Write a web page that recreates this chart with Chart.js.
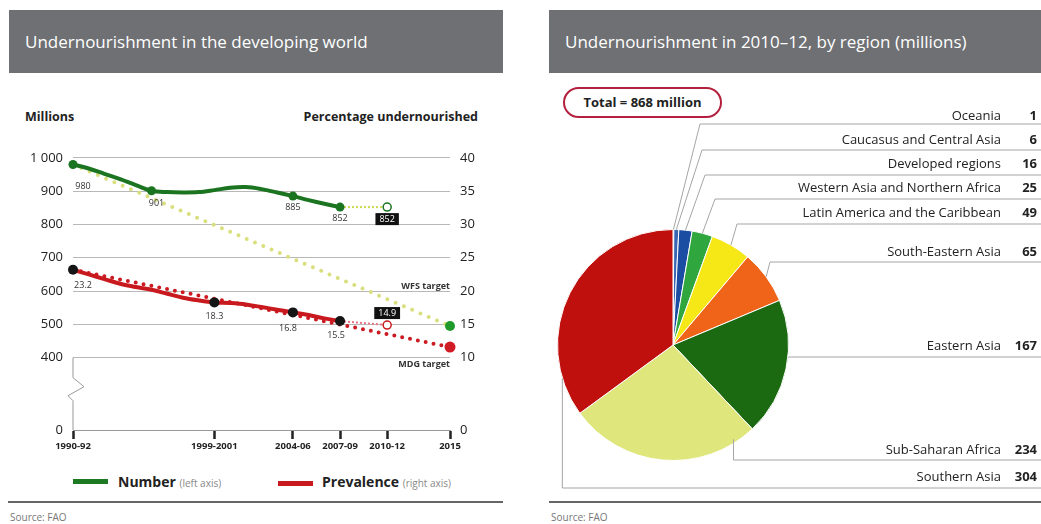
<!DOCTYPE html>
<html>
<head>
<meta charset="utf-8">
<title>Undernourishment</title>
<script src="https://cdn.jsdelivr.net/npm/chart.js@4/dist/chart.umd.min.js"></script>
<style>
    body { margin: 0; width: 1041px; height: 524px; background: #fff; position: relative; overflow: hidden; font-family: 'Open Sans', sans-serif; color: #222; }
    .bar { position: absolute; top: 10px; height: 63px; background: #6e7073; color: #fff; font-size: 17px; line-height: 63px; padding-left: 16px; box-sizing: border-box; }
    .abs { position: absolute; white-space: nowrap; }
    .axis-title { font-size: 12.5px; font-weight: bold; top: 108px; }
    .swatch { position: absolute; height: 5px; width: 35px; }
    .leg { font-size: 14px; font-weight: bold; top: 472px; }
    .leg span { font-size: 10px; font-weight: normal; color: #888; }
    .rule { position: absolute; top: 501px; height: 2px; background: #666; }
    .source { font-size: 10px; color: #777; top: 510px; }
    .total { left: 563px; top: 87px; width: 159px; height: 31px; border: 2px solid #b3203d; border-radius: 16px; box-sizing: border-box; font-size: 13px; font-weight: bold; text-align: center; line-height: 27px; }
    canvas { position: absolute; }
</style>
</head>
<body>
<div class="bar" style="left:9px; width:494px;">Undernourishment in the developing world</div>
<div class="bar" style="left:549px; width:492px;">Undernourishment in 2010–12, by region (millions)</div>

<div class="abs axis-title" style="left:25px;">Millions</div>
<div class="abs axis-title" style="right:563px;">Percentage undernourished</div>

<canvas id="trendChart" width="503" height="320" style="left:0; top:140px;"></canvas>

<div class="swatch" style="left:73px; top:479px; background:#1d7a22;"></div>
<div class="abs leg" style="left:118px;">Number <span>(left axis)</span></div>
<div class="swatch" style="left:278px; top:481px; background:#c81a1e;"></div>
<div class="abs leg" style="left:322px;">Prevalence <span>(right axis)</span></div>

<div class="rule" style="left:8px; width:495px;"></div>
<div class="abs source" style="left:10px;">Source: FAO</div>

<div class="abs total">Total = 868 million</div>
<canvas id="regionChart" width="492" height="420" style="left:549px; top:80px;"></canvas>

<div class="rule" style="left:549px; width:492px;"></div>
<div class="abs source" style="left:551px;">Source: FAO</div>

<script>
// ---- trend data (3-year averages, plotted at the middle year) ----
const years = [1991, 1992, 1993, 1994, 1995, 1996, 1997, 1998, 1999, 2000, 2001, 2002, 2003, 2004, 2005, 2006, 2007, 2008];
const numberValues = [980, 968, 952, 936, 918, 901, 897, 896, 897, 903, 910, 912, 906, 896, 885, 873, 862, 852];
const prevalenceValues = [23.2, 22.5, 21.8, 21.1, 20.6, 20.2, 19.6, 19.0, 18.6, 18.3, 18.2, 18.0, 17.6, 17.2, 16.8, 16.4, 15.9, 15.5];
const numberLabelYears = [1991, 1996, 2005, 2008];
const prevalenceLabelYears = [1991, 2000, 2005, 2008];

// 2010-12 provisional estimate
const projYears = [2008, 2011];
const numberProj = [852, 852];
const prevalenceProj = [15.5, 14.9];

// targets for 2015
const targetYears = [1991, 2015];
const wfsTarget = [980, 495];
const mdgTarget = [23.2, 11.6];

const xTickYears = [1991, 2000, 2005, 2008, 2011, 2015];
const xTickLabels = ['1990-92', '1999-2001', '2004-06', '2007-09', '2010-12', '2015'];
const leftTicks = [400, 500, 600, 700, 800, 900, 1000];
const leftTickLabels = ['400', '500', '600', '700', '800', '900', '1 000'];
const rightTicks = [10, 15, 20, 25, 30, 35, 40];

// ---- region data, 2010-12 (millions) ----
const regions = ['Oceania', 'Caucasus and Central Asia', 'Developed regions', 'Western Asia and Northern Africa',
    'Latin America and the Caribbean', 'South-Eastern Asia', 'Eastern Asia', 'Sub-Saharan Africa', 'Southern Asia'];
const regionValues = [1, 6, 16, 25, 49, 65, 167, 234, 304];

// broken axis: the stretch between 0 and 400 is squeezed
const LEFT_MIN = 183;
const RIGHT_MIN = 10 - (400 - LEFT_MIN) / 20;

Chart.defaults.font.family = "'Open Sans', sans-serif";
Chart.defaults.color = '#222';

const GREEN = '#1b7420';
const RED = '#c81a1e';

function toPoints(xs, ys) {
    return xs.map((x, i) => ({ x: x, y: ys[i] }));
}

// value labels, axis break and target notes
const trendNotes = {
    id: 'trendNotes',
    afterDatasetsDraw(chart) {
        const ctx = chart.ctx;
        const area = chart.chartArea;
        const yl = chart.scales.yLeft;

        // axis break below 400
        const y400 = yl.getPixelForValue(400);
        const x0 = area.left;
        ctx.save();
        ctx.strokeStyle = '#999';
        ctx.lineWidth = 1;
        ctx.beginPath();
        ctx.moveTo(x0, y400);
        ctx.lineTo(x0, y400 + 20);
        ctx.lineTo(x0 + 11, y400 + 29);
        ctx.lineTo(x0 - 5, y400 + 38);
        ctx.lineTo(x0, y400 + 43);
        ctx.lineTo(x0, area.bottom);
        ctx.stroke();

        ctx.font = '9px "Open Sans"';
        ctx.fillStyle = '#333';
        ctx.textAlign = 'center';
        ctx.textBaseline = 'middle';

        const numMeta = chart.getDatasetMeta(0);
        const numOffsets = { 1991: [10, 22], 1996: [5, 13], 2005: [0, 11], 2008: [0, 11] };
        numberLabelYears.forEach(yr => {
            const i = years.indexOf(yr);
            const p = numMeta.data[i];
            ctx.fillText(String(numberValues[i]), p.x + numOffsets[yr][0], p.y + numOffsets[yr][1]);
        });

        const prevMeta = chart.getDatasetMeta(1);
        const prevOffsets = { 1991: [10, 16], 2000: [0, 14], 2005: [-5, 16], 2008: [-4, 14] };
        prevalenceLabelYears.forEach(yr => {
            const i = years.indexOf(yr);
            const p = prevMeta.data[i];
            ctx.fillText(prevalenceValues[i].toFixed(1), p.x + prevOffsets[yr][0], p.y + prevOffsets[yr][1]);
        });

        // black boxes for 2010-12
        const boxes = [
            { meta: chart.getDatasetMeta(2), text: String(numberProj[1]), dy: 12 },
            { meta: chart.getDatasetMeta(3), text: prevalenceProj[1].toFixed(1), dy: -12 }
        ];
        boxes.forEach(b => {
            const p = b.meta.data[1];
            const w = ctx.measureText(b.text).width + 8;
            ctx.fillStyle = '#111';
            ctx.fillRect(p.x - w / 2, p.y + b.dy - 6, w, 12);
            ctx.fillStyle = '#fff';
            ctx.fillText(b.text, p.x, p.y + b.dy);
        });

        // target names
        ctx.font = 'bold 9px "Open Sans"';
        ctx.fillStyle = '#333';
        ctx.textAlign = 'right';
        const wfsEnd = chart.getDatasetMeta(4).data[1];
        const mdgEnd = chart.getDatasetMeta(5).data[1];
        ctx.fillText('WFS target', area.right, wfsEnd.y - 40);
        ctx.fillText('MDG target', area.right, mdgEnd.y + 17);
        ctx.restore();
    }
};

new Chart(document.getElementById('trendChart'), {
    type: 'line',
    data: {
        datasets: [
            {
                label: 'Number',
                data: toPoints(years, numberValues),
                yAxisID: 'yLeft',
                borderColor: GREEN,
                borderWidth: 4,
                tension: 0.35,
                pointRadius: years.map(y => numberLabelYears.includes(y) ? 4.5 : 0),
                pointBackgroundColor: GREEN,
                pointBorderWidth: 0,
                clip: false,
                order: 1
            },
            {
                label: 'Prevalence',
                data: toPoints(years, prevalenceValues),
                yAxisID: 'yRight',
                borderColor: RED,
                borderWidth: 4,
                tension: 0.35,
                pointRadius: years.map(y => prevalenceLabelYears.includes(y) ? 5 : 0),
                pointBackgroundColor: '#151515',
                pointBorderWidth: 0,
                clip: false,
                order: 2
            },
            {
                label: 'Number 2010-12',
                data: toPoints(projYears, numberProj),
                yAxisID: 'yLeft',
                borderColor: '#c9d84c',
                borderWidth: 2,
                borderDash: [2, 2],
                pointRadius: [0, 4],
                pointBackgroundColor: '#fff',
                pointBorderColor: GREEN,
                pointBorderWidth: 1.5,
                clip: false,
                order: 3
            },
            {
                label: 'Prevalence 2010-12',
                data: toPoints(projYears, prevalenceProj),
                yAxisID: 'yRight',
                borderColor: '#e57785',
                borderWidth: 2,
                borderDash: [2, 2],
                pointRadius: [0, 4],
                pointBackgroundColor: '#fff',
                pointBorderColor: RED,
                pointBorderWidth: 1.5,
                clip: false,
                order: 4
            },
            {
                label: 'WFS target',
                data: toPoints(targetYears, wfsTarget),
                yAxisID: 'yLeft',
                borderColor: '#d8df7c',
                borderWidth: 4,
                borderDash: [0, 9],
                borderCapStyle: 'round',
                pointRadius: [0, 5],
                pointBackgroundColor: '#1f9a2a',
                pointBorderWidth: 0,
                clip: false,
                order: 5
            },
            {
                label: 'MDG target',
                data: toPoints(targetYears, mdgTarget),
                yAxisID: 'yRight',
                borderColor: '#cc1a22',
                borderWidth: 4,
                borderDash: [0, 8],
                borderCapStyle: 'round',
                pointRadius: [0, 5.5],
                pointBackgroundColor: '#d01c24',
                pointBorderWidth: 0,
                clip: false,
                order: 6
            }
        ]
    },
    options: {
        responsive: false,
        animation: false,
        layout: { padding: { top: 15, left: 0, right: 0, bottom: 0 } },
        plugins: { legend: { display: false }, tooltip: { enabled: false } },
        scales: {
            x: {
                type: 'linear',
                min: 1991,
                max: 2015,
                afterBuildTicks: scale => { scale.ticks = xTickYears.map(v => ({ value: v })); },
                afterFit: scale => { scale.height = 30; },
                ticks: {
                    autoSkip: false,
                    maxRotation: 0,
                    padding: 2,
                    font: { size: 9.5, weight: 'bold' },
                    callback: v => xTickLabels[xTickYears.indexOf(v)]
                },
                grid: { drawOnChartArea: false, drawTicks: true, tickLength: 9, tickColor: '#222', tickWidth: 2.5 },
                border: { display: true, color: '#999', width: 1 }
            },
            yLeft: {
                type: 'linear',
                position: 'left',
                min: LEFT_MIN,
                max: 1000,
                afterBuildTicks: scale => { scale.ticks = [LEFT_MIN].concat(leftTicks).map(v => ({ value: v })); },
                afterFit: scale => { scale.width = 73; },
                ticks: {
                    padding: 10,
                    font: { size: 13 },
                    callback: v => v === LEFT_MIN ? '0' : leftTickLabels[leftTicks.indexOf(v)]
                },
                grid: { color: '#b8b8b8', lineWidth: 1, drawTicks: false },
                border: { display: false }
            },
            yRight: {
                type: 'linear',
                position: 'right',
                min: RIGHT_MIN,
                max: 40,
                afterBuildTicks: scale => { scale.ticks = [RIGHT_MIN].concat(rightTicks).map(v => ({ value: v })); },
                afterFit: scale => { scale.width = 53; },
                ticks: {
                    padding: 10,
                    font: { size: 13 },
                    callback: v => v === RIGHT_MIN ? '0' : String(v)
                },
                grid: { display: false, drawTicks: false },
                border: { display: false }
            }
        }
    },
    plugins: [trendNotes]
});

// ---- region pie ----
const pieColors = ['#c9ccd0', '#3a67b4', '#1b4ea3', '#30a63e', '#f6e816', '#ef6419', '#1b6a12', '#dfe67c', '#c0100e'];
// label rows (canvas y of text), leader anchor inside each slice and where the rule starts
const rowTextY = [36, 60, 84, 108, 133, 172, 266, 370, 397];
const ruleY = [44, 70, 95, 119, 144, 182, 277, 380, 408];
const anchorFrac = [0.5, 0.5, 0.5, 0.5, 0.5, 0.5, 0.42, 0.11, 0.155];
const anchorRad = [1, 1, 1, 1, 1, 1, 1, 0.97, 1];
const elbowX = [151, 153, 156, 166, 188, 221, 240, null, null];

const regionLabels = {
    id: 'regionLabels',
    afterDraw(chart) {
        const ctx = chart.ctx;
        const meta = chart.getDatasetMeta(0);
        const right = chart.width;
        ctx.save();
        ctx.strokeStyle = '#a5a5a5';
        ctx.lineWidth = 1;
        meta.data.forEach((arc, i) => {
            const p = arc.getProps(['x', 'y', 'startAngle', 'endAngle', 'outerRadius'], true);
            const a = p.startAngle + (p.endAngle - p.startAngle) * anchorFrac[i];
            const ax = p.x + Math.cos(a) * p.outerRadius * anchorRad[i];
            const ay = p.y + Math.sin(a) * p.outerRadius * anchorRad[i];
            const ex = elbowX[i] === null ? ax : elbowX[i];
            ctx.beginPath();
            ctx.moveTo(ax, ay);
            ctx.lineTo(ex, ruleY[i]);
            ctx.lineTo(right, ruleY[i]);
            ctx.stroke();
        });

        ctx.textBaseline = 'middle';
        ctx.fillStyle = '#222';
        regions.forEach((name, i) => {
            ctx.font = '13px "Open Sans"';
            ctx.textAlign = 'right';
            ctx.fillText(name, 452, rowTextY[i]);
            ctx.font = 'bold 13px "Open Sans"';
            ctx.fillText(String(regionValues[i]), 488, rowTextY[i]);
        });
        ctx.restore();
    }
};

new Chart(document.getElementById('regionChart'), {
    type: 'pie',
    data: {
        labels: regions,
        datasets: [{
            data: regionValues,
            backgroundColor: pieColors,
            borderColor: '#fff',
            borderWidth: 1
        }]
    },
    options: {
        responsive: false,
        animation: false,
        layout: { padding: { left: 8, right: 252, top: 149, bottom: 39 } },
        plugins: { legend: { display: false }, tooltip: { enabled: false } }
    },
    plugins: [regionLabels]
});
</script>
</body>
</html>
